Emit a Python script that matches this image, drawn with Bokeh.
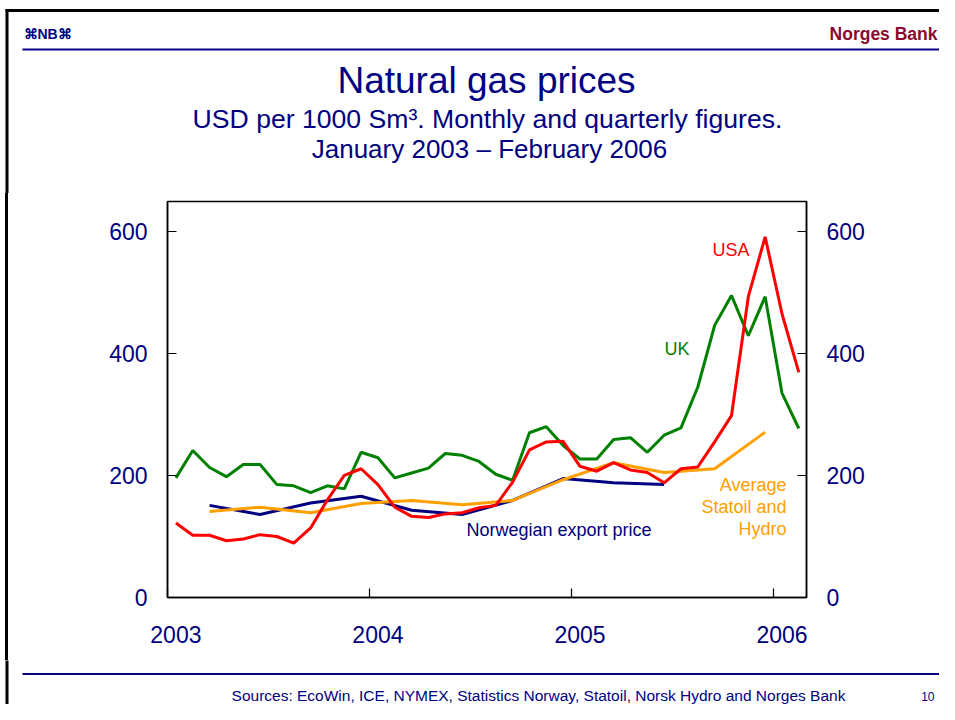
from bokeh.plotting import figure
from bokeh.models import (Range1d, LinearAxis, FixedTicker, CustomJSTickFormatter,
                          Label, BoxAnnotation, Spacer)
from bokeh.layouts import column, row
from bokeh.embed import file_html
from bokeh.resources import INLINE

# ---------------- data ----------------
years = [2003, 2004, 2005, 2006]
y_ticks = [0, 200, 400, 600]

months = [f"{y}-{m:02d}" for y in range(2003, 2007) for m in range(1, 13)][:38]  # Jan 2003 - Feb 2006

uk = [196, 241, 213, 198, 218, 218, 185, 183, 172, 183, 178, 238,
      229, 196, 204, 212, 236, 233, 223, 202, 192, 270, 280, 249,
      227, 227, 259, 262, 238, 266, 278, 345, 446, 495, 429, 493,
      335, 277]
usa = [122, 102, 102, 93, 96, 103, 100, 89, 114, 160, 200, 211,
       185, 148, 133, 131, 137, 139, 147, 151, 189, 242, 255, 256,
       215, 207, 221, 209, 205, 188, 211, 214, 255, 298, 493, 591,
       465, 369]

norway_q = ["2003-03", "2003-06", "2003-09", "2003-12", "2004-03", "2004-06",
            "2004-09", "2004-12", "2005-03", "2005-06"]
norway = [151, 136, 155, 166, 143, 136, 159, 195, 188, 185]

statoil_q = ["2003-03", "2003-06", "2003-09", "2003-12", "2004-03", "2004-06",
             "2004-09", "2004-12", "2005-03", "2005-06", "2005-09", "2005-12"]
statoil = [141, 148, 139, 154, 159, 152, 159, 193, 221, 205, 211, 271]

title = "Natural gas prices"
subtitle1 = "USD per 1000 Sm³. Monthly and quarterly figures."
subtitle2 = "January 2003 – February 2006"
sources = "Sources: EcoWin, ICE, NYMEX, Statistics Norway, Statoil, Norsk Hydro and Norges Bank"


def to_x(ym):
    y, m = ym.split("-")
    return int(y) + (int(m) - 0.5) / 12.0


x_month = [to_x(m) for m in months]
x_norway = [to_x(m) for m in norway_q]
x_statoil = [to_x(m) for m in statoil_q]

# ---------------- styles ----------------
FONT = "Liberation Sans"
NAVY = "#000080"
RED = "#ff0000"
GREEN = "#008000"
ORANGE = "#ffa000"
DARKRED = "#8b0a2b"

W = 939
HEAD_H = 193       # page rows 0..193
CHART_H = 467      # page rows 193..660
FOOT_H = 704 - HEAD_H - CHART_H
STRIP_W = 10


def blank_fig(width, height, y0):
    """A decoration panel whose data units equal page pixels (y downwards)."""
    f = figure(width=width, height=height, output_backend="svg", toolbar_location=None,
               x_range=Range1d(0, width), y_range=Range1d(y0 + height, y0),
               min_border=0, min_border_left=0, min_border_right=0,
               min_border_top=0, min_border_bottom=0,
               x_axis_location=None, y_axis_location=None)
    f.grid.visible = False
    f.outline_line_color = None
    f.background_fill_color = "white"
    f.border_fill_color = "white"
    return f


def box(f, l, r, t, b, color):
    f.add_layout(BoxAnnotation(left=l, right=r, top=t, bottom=b, fill_color=color,
                               fill_alpha=1.0, line_color=None))


def txt(f, x, y, text, size, color, align="left", bold=False, lift=0.35):
    px = float(size.replace("px", ""))
    f.add_layout(Label(x=x, y=y, text=text, text_font=FONT, text_font_size=size,
                       text_color=color, text_align=align, text_baseline="alphabetic",
                       y_offset=round(lift * px),
                       text_font_style="bold" if bold else "normal"))


# ---------------- header ----------------
head = blank_fig(W, HEAD_H, 0)
box(head, 5, W, 8.5, 11.5, "black")        # slide frame top
box(head, 5, 8, 8.5, HEAD_H + 2, "black")  # slide frame left
box(head, 22, W, 48, 50, NAVY)             # header rule
txt(head, 23, 38, "⌘NB⌘", "14px", NAVY, bold=True)
txt(head, 937, 39, "Norges Bank", "17.5px", DARKRED, "right", bold=True)
txt(head, 486, 93, title, "37px", NAVY, "center")
txt(head, 487, 127, subtitle1, "26.6px", NAVY, "center")
txt(head, 489, 157, subtitle2, "26px", NAVY, "center")

# ---------------- left slide frame beside the chart ----------------
left_pad = Spacer(width=5, height=CHART_H)
left_bar = Spacer(width=3, height=CHART_H, styles={"background-color": "black"})
left_gap = Spacer(width=STRIP_W - 8, height=CHART_H)

# ---------------- chart ----------------
p = figure(width=W - STRIP_W, height=CHART_H, output_backend="svg", toolbar_location=None,
           x_range=Range1d(2003.0, 2006.163), y_range=Range1d(0, 649),
           min_border_left=167 - STRIP_W, min_border_right=W - 806,
           min_border_top=201 - HEAD_H, min_border_bottom=HEAD_H + CHART_H - 597,
           x_axis_location=None, y_axis_location=None)
p.grid.visible = False
p.outline_line_color = "black"
p.outline_line_width = 1.5
p.background_fill_color = "white"
p.border_fill_color = "white"


def style_axis(ax):
    ax.axis_line_color = "black"
    ax.axis_line_width = 1.5
    ax.major_tick_line_color = "black"
    ax.major_tick_line_width = 1.2
    ax.major_label_text_font = FONT
    ax.major_label_text_font_size = "23px"
    ax.major_label_text_color = NAVY
    ax.minor_tick_line_color = None


for side in ("left", "right"):
    ax = LinearAxis(ticker=FixedTicker(ticks=y_ticks))
    style_axis(ax)
    ax.major_tick_in = 9
    ax.major_tick_out = 0
    ax.major_label_standoff = 20
    p.add_layout(ax, side)

xa = LinearAxis(ticker=FixedTicker(ticks=[y + 1 / 24 for y in years], minor_ticks=years),
                formatter=CustomJSTickFormatter(code="return Math.floor(tick).toString()"))
style_axis(xa)
xa.major_tick_in = 0
xa.major_tick_out = 0
xa.major_tick_line_color = None
xa.minor_tick_line_color = "black"
xa.minor_tick_line_width = 1.2
xa.minor_tick_in = 9
xa.minor_tick_out = 0
xa.major_label_standoff = 28
p.add_layout(xa, "below")

p.line(x_month, uk, line_color=GREEN, line_width=3)
p.line(x_norway, norway, line_color=NAVY, line_width=3)
p.line(x_statoil, statoil, line_color=ORANGE, line_width=3)
p.line(x_month, usa, line_color=RED, line_width=3)


def dlabel(x, y, text, color, align="left"):
    p.add_layout(Label(x=x, y=y, text=text, text_color=color, text_font=FONT,
                       text_font_size="18px", text_align=align, text_baseline="alphabetic",
                       y_offset=6))


dlabel(2005.698, 559, "USA", RED)
dlabel(2005.460, 398, "UK", GREEN)
dlabel(2004.480, 100, "Norwegian export price", NAVY)
dlabel(2006.064, 174, "Average", ORANGE, "right")
dlabel(2006.064, 138, "Statoil and", ORANGE, "right")
dlabel(2006.064, 102, "Hydro", ORANGE, "right")

# ---------------- footer ----------------
y0 = HEAD_H + CHART_H
foot = blank_fig(W, FOOT_H, y0)
box(foot, 5, 8, y0 - 2, y0 + FOOT_H, "black")  # slide frame left
box(foot, 22, W, 672.5, 674.5, NAVY)           # footer rule
txt(foot, 538, 695, sources, "15.5px", NAVY, "center", lift=0)
txt(foot, 934, 696, "10", "12px", NAVY, "right", lift=0)

page = column(head, row(left_pad, left_bar, left_gap, p, spacing=0), foot, spacing=0)

open("out.html", "w").write(file_html(page, INLINE))
